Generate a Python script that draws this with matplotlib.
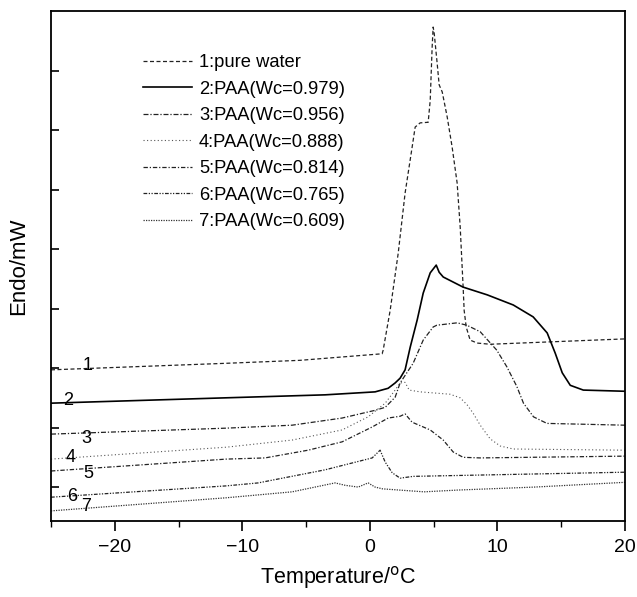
import matplotlib
matplotlib.use("Agg")
import matplotlib.pyplot as plt
from matplotlib.ticker import MultipleLocator, NullFormatter

# ---- data (temperature in °C, heat flow in arbitrary offset units) ----
t1 = [-25.0, -11.27, -5.47, 0.96, 1.04, 1.59, 2.22, 2.76, 3.31, 3.55, 3.94, 4.57, 4.73, 4.88, 4.96,
      5.04, 5.27, 5.43, 5.67, 6.06, 6.45, 6.84, 7.08, 7.31, 7.39, 7.55, 7.86, 8.41, 9.43, 20.0]
y1 = [2.97, 3.08, 3.13, 3.24, 3.30, 3.97, 4.93, 5.94, 6.71, 7.05, 7.12, 7.13, 7.50, 8.39, 8.73,
      8.63, 8.13, 7.76, 7.64, 7.22, 6.71, 6.11, 5.37, 4.36, 3.97, 3.69, 3.47, 3.42, 3.40, 3.49]

t2 = [-25.0, -11.27, -3.51, 0.41, 1.43, 1.98, 2.37, 2.76, 3.16, 3.71, 4.18, 4.73, 5.20, 5.43, 5.75,
      7.31, 9.20, 11.24, 12.80, 13.90, 14.53, 15.08, 15.71, 16.73, 20.0]
y2 = [2.41, 2.50, 2.55, 2.60, 2.66, 2.75, 2.83, 2.97, 3.35, 3.81, 4.26, 4.60, 4.73, 4.61, 4.53,
      4.36, 4.23, 4.06, 3.86, 3.59, 3.25, 2.92, 2.71, 2.63, 2.61]

t3 = [-25.0, -11.27, -6.10, -2.18, 0.41, 1.20, 1.98, 2.37, 3.39, 4.18, 4.96, 5.25, 6.84, 7.60,
      8.65, 9.95, 10.74, 11.52, 12.04, 12.83, 13.88, 20.0]
y3 = [1.89, 1.99, 2.04, 2.16, 2.29, 2.34, 2.51, 2.75, 3.08, 3.47, 3.69, 3.72, 3.76, 3.72,
      3.61, 3.30, 3.02, 2.69, 2.41, 2.18, 2.07, 2.04]

t4 = [-25.0, -11.27, -6.10, -2.18, -0.14, 1.20, 1.98, 2.37, 2.76, 3.08, 3.94, 6.29, 7.08, 7.63,
      8.10, 8.65, 9.43, 10.22, 11.24, 20.0]
y4 = [1.47, 1.67, 1.79, 1.96, 2.18, 2.41, 2.63, 2.75, 2.76, 2.63, 2.60, 2.56, 2.50, 2.38,
      2.24, 2.04, 1.81, 1.69, 1.64, 1.62]

t5 = [-25.0, -11.27, -8.22, -4.84, -2.18, 0.18, 1.43, 2.37, 2.76, 3.31, 4.73, 5.75, 6.53, 7.31,
      8.65, 20.0]
y5 = [1.27, 1.47, 1.49, 1.62, 1.76, 2.01, 2.16, 2.19, 2.23, 2.09, 1.96, 1.79, 1.59, 1.50,
      1.49, 1.52]

t6 = [-25.0, -11.27, -8.76, -3.51, 0.18, 0.80, 1.20, 1.75, 2.37, 3.39, 20.0]
y6 = [0.83, 1.02, 1.07, 1.29, 1.49, 1.62, 1.42, 1.24, 1.15, 1.18, 1.25]

t7 = [-25.0, -11.27, -6.10, -2.73, -1.94, -0.92, -0.14, 0.41, 1.00, 4.25, 6.90, 12.9, 20.0]
y7 = [0.60, 0.82, 0.92, 1.07, 1.03, 1.00, 1.07, 1.00, 0.97, 0.92, 0.95, 1.00, 1.08]

legend_labels = ["1:pure water", "2:PAA(Wc=0.979)", "3:PAA(Wc=0.956)", "4:PAA(Wc=0.888)",
                 "5:PAA(Wc=0.814)", "6:PAA(Wc=0.765)", "7:PAA(Wc=0.609)"]
curve_numbers = ["1", "2", "3", "4", "5", "6", "7"]
number_t = [-22.1, -23.67, -22.25, -23.5, -22.1, -23.35, -22.25]
number_y = [3.05, 2.46, 1.82, 1.50, 1.22, 0.85, 0.68]

x_ticks = [-20, -10, 0, 10, 20]
y_ticks = [1, 2, 3, 4, 5, 6, 7, 8]

# ---- styles ----
styles = [
    dict(ls=(0, (3.2, 2.0)), lw=0.9, color="#222222"),
    dict(ls="-", lw=1.2, color="black"),
    dict(ls=(0, (4.0, 1.5, 1.0, 1.5)), lw=0.9, color="#222222"),
    dict(ls=(0, (1.0, 2.2)), lw=0.8, color="#555555"),
    dict(ls=(0, (3.5, 1.5, 1.0, 1.5)), lw=0.9, color="#222222"),
    dict(ls=(0, (3.0, 1.2, 1.0, 1.2, 1.0, 1.2)), lw=0.9, color="#222222"),
    dict(ls=(0, (1.0, 1.0)), lw=0.9, color="#333333"),
]

fontlist = ["Liberation Sans", "DejaVu Sans"]
plt.rcParams["font.family"] = fontlist

fig = plt.figure(figsize=(6.37, 5.97), dpi=100)
ax = fig.add_axes([51 / 637, 1 - 521 / 597, (625 - 51) / 637, (521 - 11) / 597])

series = [(t1, y1), (t2, y2), (t3, y3), (t4, y4), (t5, y5), (t6, y6), (t7, y7)]
handles = []
for (t, y), st, lab in zip(series, styles, legend_labels):
    h, = ax.plot(t, y, linestyle=st["ls"], lw=st["lw"], color=st["color"], label=lab)
    handles.append(h)

for s, tx, ty in zip(curve_numbers, number_t, number_y):
    ax.text(tx, ty, s, fontsize=13, ha="center", va="center")

ax.set_xlim(-25, 20)
ax.set_ylim(0.43, 9.0)
ax.set_xticks(x_ticks)
ax.xaxis.set_minor_locator(MultipleLocator(5))
ax.set_yticks(y_ticks)
ax.yaxis.set_major_formatter(NullFormatter())
ax.tick_params(axis="x", which="major", direction="out", length=7, width=1.2,
               labelsize=14, pad=6)
ax.tick_params(axis="x", which="minor", direction="out", length=4, width=1.0)
ax.tick_params(axis="y", which="major", direction="in", length=6, width=1.2, left=True, right=False)
for sp in ax.spines.values():
    sp.set_linewidth(1.3)

ax.set_xlabel("Temperature/$^{\\mathrm{o}}$C", fontsize=15.5, labelpad=6)
ax.set_ylabel("Endo/mW", fontsize=16, labelpad=12)

leg = ax.legend(handles=handles, loc="upper left",
                bbox_to_anchor=(143 / 637, 1 - 54 / 597), bbox_transform=fig.transFigure,
                frameon=False, borderpad=0, borderaxespad=0, handlelength=2.65,
                handletextpad=0.4, labelspacing=0.52,
                prop={"family": fontlist, "size": 13.2})

fig.savefig("out.png", dpi=100)
